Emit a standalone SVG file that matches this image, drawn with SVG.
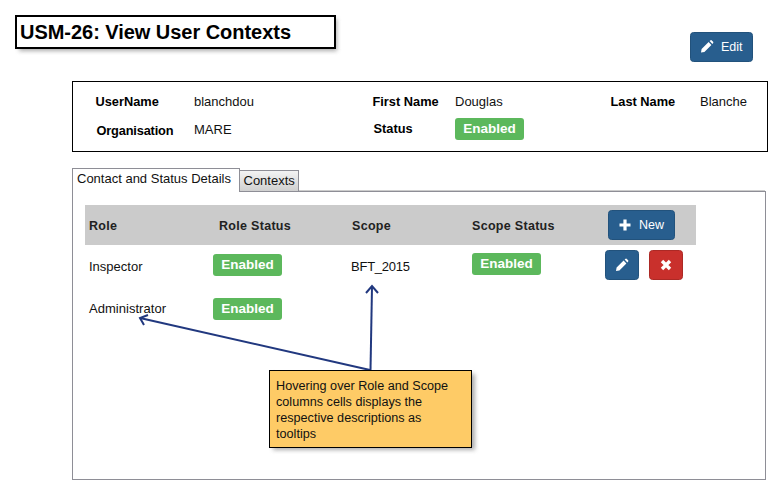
<svg xmlns="http://www.w3.org/2000/svg" width="783" height="496" viewBox="0 0 783 496">
<defs>
<style>
text{font-family:"Liberation Sans",Arial,sans-serif;font-size:13px;fill:#111}
.b{font-weight:bold;fill:#000;font-size:12.8px}
.h{font-weight:bold;font-size:12.5px;fill:#222;letter-spacing:.3px}
.badge{fill:#5cb85c}
.bt{font-weight:bold;font-size:13.5px;fill:#fff;text-anchor:middle}
.btn{fill:#285e8e;stroke:#22527c;stroke-width:1}
.wt{fill:#fff;font-size:12.5px}
.note{font-size:12.65px}
.conn{stroke:#21387f;stroke-width:2;fill:none}
</style>
<filter id="sh" x="-10%" y="-20%" width="125%" height="150%"><feGaussianBlur stdDeviation="2"/></filter>
<linearGradient id="tab" x1="0" y1="0" x2="0" y2="1"><stop offset="0" stop-color="#f4f4f4"/><stop offset="1" stop-color="#cfcfcf"/></linearGradient>
<path id="pencil" d="M-6 6 L-5.400 2.600 L1.600 -4.400 L4.400 -1.600 L-2.600 5.400 Z M2.600 -5.400 L3.600 -6.200 Q4.200 -6.600 4.800 -6.100 L6.100 -4.800 Q6.600 -4.200 6.200 -3.600 L5.400 -2.600 Z" fill="#fff"/>
</defs>
<rect width="783" height="496" fill="#fff"/>

<g id="title">
<rect x="19" y="19" width="318" height="32" fill="#777" opacity=".6" filter="url(#sh)"/>
<rect x="16" y="16" width="319" height="32" fill="#fff" stroke="#000" stroke-width="2"/>
<text x="20" y="39" style="font-size:20px;font-weight:bold;fill:#000" textLength="271">USM-26: View User Contexts</text>
</g>

<g id="edit-button">
<rect x="690.500" y="32.500" width="62" height="29" rx="3" class="btn"/>
<use href="#pencil" x="707" y="46.500"/>
<text x="721" y="51" class="wt">Edit</text>
</g>

<g id="user-panel">
<rect x="72.500" y="81.500" width="695" height="70" fill="#fff" stroke="#000" stroke-width="1"/>
<text x="95.500" y="106" class="b">UserName</text>
<text x="194" y="106">blanchdou</text>
<text x="372.500" y="106" class="b">First Name</text>
<text x="455" y="106">Douglas</text>
<text x="610.500" y="106" class="b">Last Name</text>
<text x="700" y="106">Blanche</text>
<text x="96.500" y="135" class="b" textLength="77">Organisation</text>
<text x="194" y="134">MARE</text>
<text x="373.500" y="133" class="b">Status</text>
<rect x="455" y="118" width="69" height="22" rx="3" class="badge"/>
<text x="489.500" y="133" class="bt">Enabled</text>
</g>

<g id="tabs">
<rect x="72.500" y="191.500" width="693" height="288" fill="#fff" stroke="#8e8e96" stroke-width="1"/>
<path d="M240 190.500H765" stroke="#ccc" fill="none"/>
<rect x="72.500" y="168.500" width="167" height="23" fill="#fff" stroke="#8e8e96"/>
<path d="M73 191.500H239" stroke="#fff"/>
<text x="77" y="183">Contact and Status Details</text>
<rect x="239.500" y="170.500" width="59" height="21" fill="url(#tab)" stroke="#8e8e96"/>
<text x="243.500" y="185">Contexts</text>
</g>

<g id="table-header">
<rect x="85" y="205" width="611" height="40" fill="#cbcbcb"/>
<text x="89" y="230" class="h">Role</text>
<text x="219" y="230" class="h">Role Status</text>
<text x="352" y="230" class="h">Scope</text>
<text x="472" y="230" class="h">Scope Status</text>
</g>

<g id="new-button">
<rect x="608.500" y="210.500" width="66" height="29" rx="3" class="btn"/>
<path d="M625 219.500V230.500M619.500 225H630.500" stroke="#fff" stroke-width="3.200" fill="none"/>
<text x="639" y="229" class="wt">New</text>
</g>

<g id="row-inspector">
<text x="89" y="271">Inspector</text>
<rect x="213" y="254" width="69" height="22" rx="3" class="badge"/>
<text x="247.500" y="269" class="bt">Enabled</text>
<text x="351" y="271" textLength="59">BFT_2015</text>
<rect x="472" y="253" width="69" height="22" rx="3" class="badge"/>
<text x="506.500" y="268" class="bt">Enabled</text>
</g>

<g id="edit-row-button">
<rect x="605.500" y="250.500" width="33" height="29" rx="3" class="btn"/>
<use href="#pencil" x="622" y="265"/>
</g>
<g id="delete-row-button">
<rect x="649.500" y="250.500" width="33" height="29" rx="3" fill="#c9302c" stroke="#ac2925"/>
<path d="M662 261L670 269M670 261L662 269" stroke="#fff" stroke-width="3.400" fill="none"/>
</g>

<g id="row-administrator">
<text x="89" y="313" textLength="77">Administrator</text>
<rect x="213" y="298" width="69" height="22" rx="3" class="badge"/>
<text x="247.500" y="313" class="bt">Enabled</text>
</g>

<g id="connectors">
<path class="conn" d="M370.500 370L372 287"/>
<path class="conn" d="M366 293L372 286L378 293"/>
<path class="conn" d="M370 370L140 318"/>
<path class="conn" d="M148 315L140 318L144 325"/>
</g>

<g id="note">
<rect x="273" y="374" width="202" height="76" fill="#777" opacity=".6" filter="url(#sh)"/>
<rect x="269.500" y="370.500" width="202" height="77" fill="#fecb66" stroke="#000" stroke-width="1"/>
<text x="276" y="390" class="note">Hovering over Role and Scope</text>
<text x="276" y="406" class="note">columns cells displays the</text>
<text x="276" y="422" class="note">respective descriptions as</text>
<text x="276" y="438" class="note">tooltips</text>
</g>
</svg>
